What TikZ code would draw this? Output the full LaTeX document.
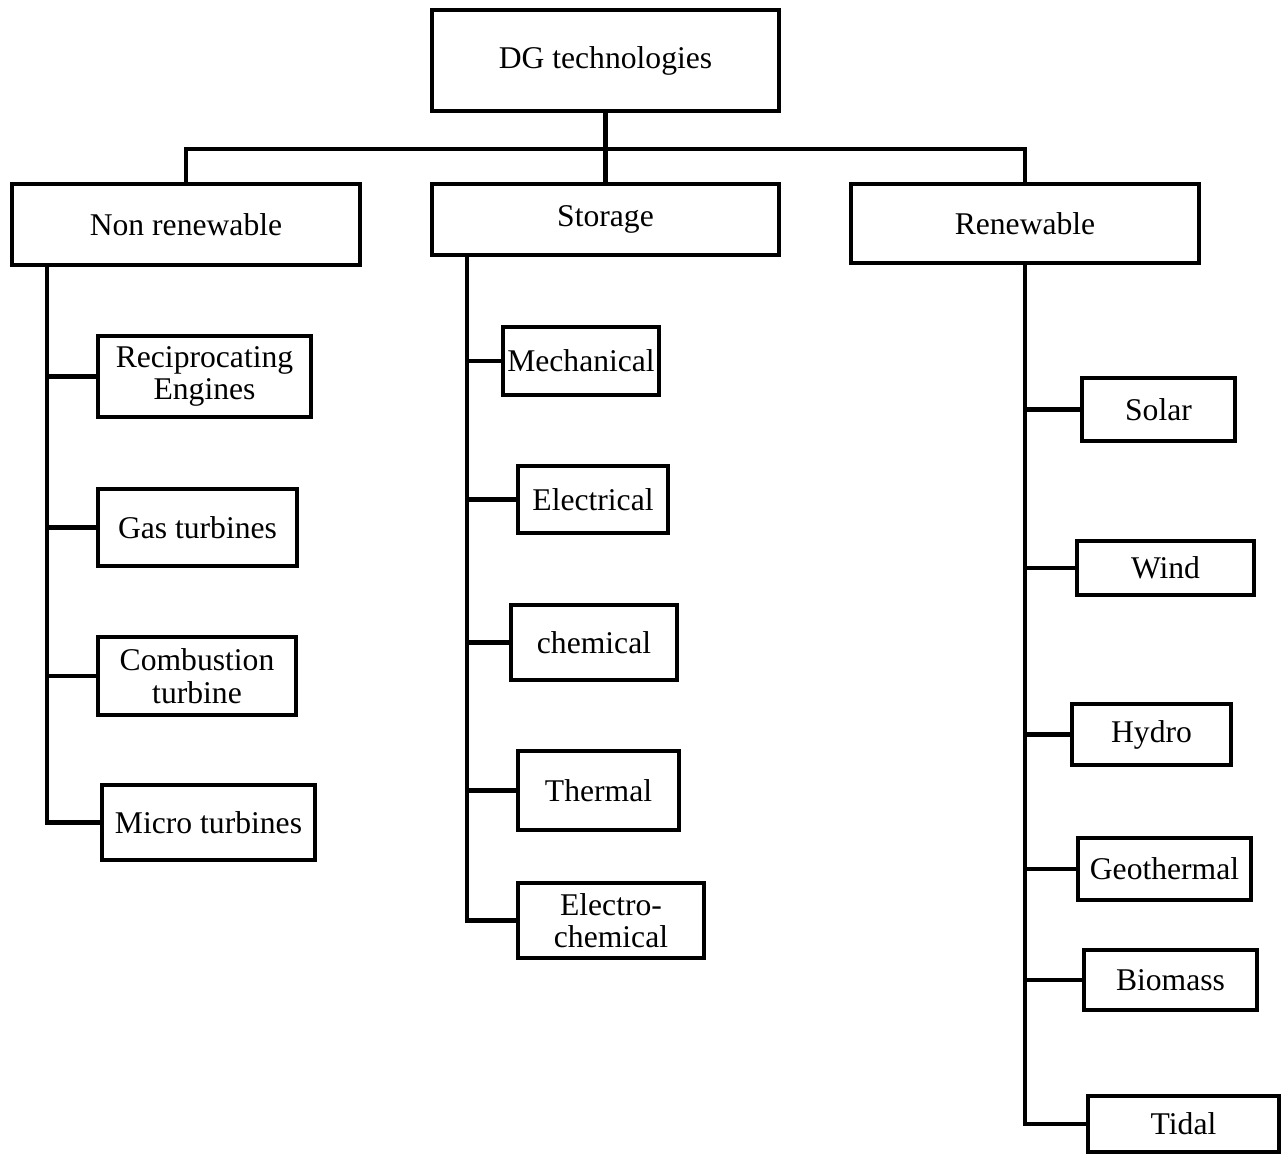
\documentclass[tikz,border=0pt]{standalone}
\usepackage{fontspec}
\setmainfont{Liberation Serif}
\tikzset{
  box/.style 2 args={draw, line width=2.3pt, inner sep=0pt, align=center,
    minimum width=#1*0.02cm, minimum height=#2*0.02cm,
    font=\fontsize{18}{18.5}\selectfont},
  link/.style={line width=2.3pt}
}
\begin{document}
\begin{tikzpicture}[x=0.02cm, y=-0.02cm]
  \useasboundingbox (0,0) rectangle (1281,1153);
  % Top: root and the three groups
  \node[box={347}{101}] (dg) at (605.5,60.5) {DG technologies};
  \node[box={348}{81}] (nr) at (186,224.5) {Non renewable};
  \node[box={347}{71}] (st) at (605.5,219.5) {Storage};
  \node[box={348}{79}] (ren) at (1025,223.5) {Renewable};
  \coordinate (bus) at (605.5,149);
  \draw[link] (dg.south) -- (bus) -- (st.north);
  \draw[link] (nr.north) |- (bus) -| (ren.north);
  % Left: non renewable
  \node[box={213}{81}] (rec) at (204.5,376.5) {Reciprocating\\Engines};
  \node[box={199}{77}] (gas) at (197.5,527.5) {Gas turbines};
  \node[box={198}{78}] (comb) at (197,676) {Combustion\\turbine};
  \node[box={213}{75}] (micro) at (208.5,822.5) {Micro turbines};
  \coordinate (nrtrunk) at (47,0);
  \draw[link] (nr.south -| nrtrunk) |- (micro.west);
  \foreach \n in {rec,gas,comb}
    \draw[link] (\n.west -| nrtrunk) -- (\n.west);
  % Middle: storage
  \node[box={156}{68}] (mech) at (581,361) {Mechanical};
  \node[box={150}{67}] (elec) at (593,499.5) {Electrical};
  \node[box={166}{75}] (chem) at (594,642.5) {chemical};
  \node[box={161}{79}] (therm) at (598.5,790.5) {Thermal};
  \node[box={186}{75}] (echem) at (611,920.5) {Electro-\\chemical};
  \coordinate (sttrunk) at (467,0);
  \draw[link] (st.south -| sttrunk) |- (echem.west);
  \foreach \n in {mech,elec,chem,therm}
    \draw[link] (\n.west -| sttrunk) -- (\n.west);
  % Right: renewable
  \node[box={153}{63}] (solar) at (1158.5,409.5) {Solar};
  \node[box={177}{54}] (wind) at (1165.5,568) {Wind};
  \node[box={159}{61}] (hydro) at (1151.5,734.5) {Hydro};
  \node[box={173}{62}] (geo) at (1164.5,869) {Geothermal};
  \node[box={173}{60}] (bio) at (1170.5,980) {Biomass};
  \node[box={191}{56}] (tidal) at (1183.5,1124) {Tidal};
  \draw[link] (ren.south) |- (tidal.west);
  \foreach \n in {solar,wind,hydro,geo,bio}
    \draw[link] (\n.west -| ren.south) -- (\n.west);
\end{tikzpicture}
\end{document}
